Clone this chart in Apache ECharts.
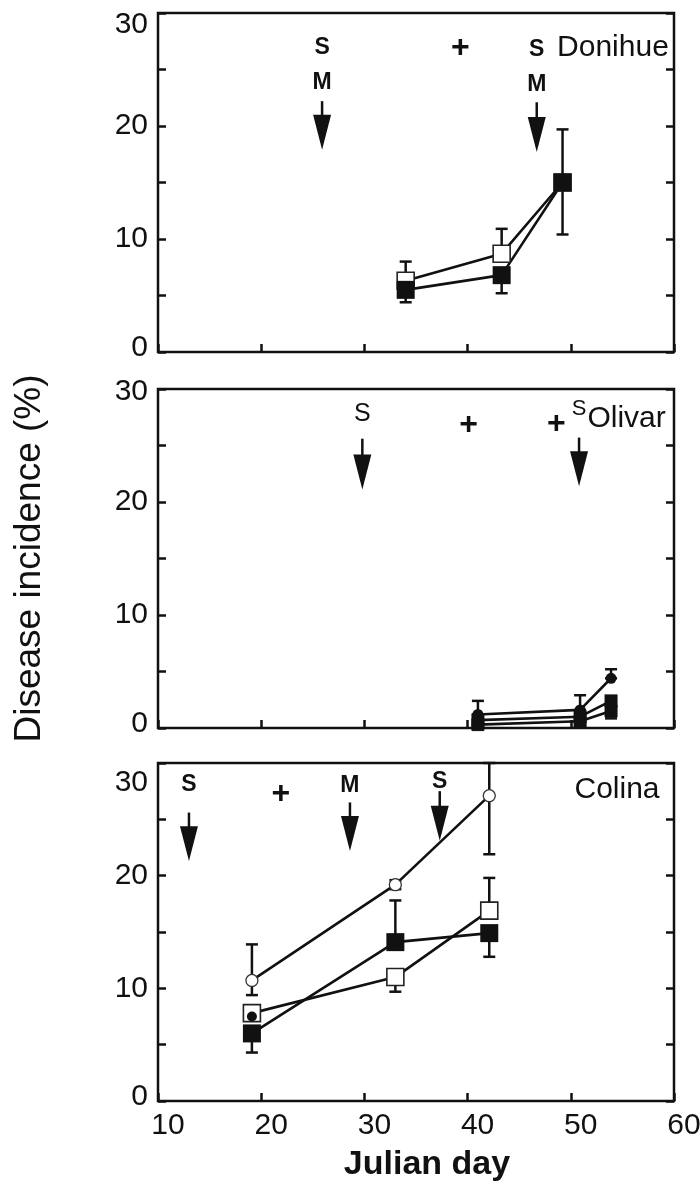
<!DOCTYPE html>
<html><head><meta charset="utf-8">
<script src="https://cdn.jsdelivr.net/npm/echarts@6/dist/echarts.min.js"></script>
<style>html,body{margin:0;padding:0;background:#fff}#c{width:700px;height:1195px}</style>
</head><body><div id="c"></div>
<script>
// ---------- data ----------
// Donihue
const donihueDays = [34.0, 43.3, 49.2];
const donihueOpenSq = [6.3, 8.7, 15.0];
const donihueOpenSqLow = [6.3, 8.7, 15.0];
const donihueOpenSqHigh = [8.0, 10.9, 19.7];
const donihueFilledSq = [5.5, 6.8, 15.0];
const donihueFilledSqLow = [4.4, 5.2, 10.4];
const donihueFilledSqHigh = [5.5, 6.8, 15.0];
// Olivar
const olivarDays = [41.0, 50.9, 53.9];
const olivarFilledCirc = [1.2, 1.6, 4.4];
const olivarFilledCircLow = [1.2, 1.6, 4.4];
const olivarFilledCircHigh = [2.4, 2.9, 5.2];
const olivarFilledSq = [0.7, 1.0, 2.4];
const olivarOpenSq = [0.3, 0.6, 1.5];
const olivarOpenSqLow = [0.0, 0.3, 0.85];
const olivarOpenSqHigh = [0.3, 0.6, 1.5];
// Colina
const colinaDays = [19.1, 33.0, 42.1];
const colinaOpenCirc = [10.7, 19.2, 27.1];
const colinaOpenCircLow = [9.4, 18.8, 21.9];
const colinaOpenCircHigh = [13.9, 19.6, 30.0];
const colinaOpenSq = [7.8, 11.0, 16.9];
const colinaOpenSqLow = [7.8, 9.7, 16.9];
const colinaOpenSqHigh = [7.8, 11.0, 19.8];
const colinaFilledSq = [6.0, 14.1, 14.9];
const colinaFilledSqLow = [4.3, 14.1, 12.8];
const colinaFilledSqHigh = [6.0, 17.8, 14.9];
const colinaFilledCircDays = [19.1];
const colinaFilledCirc = [7.5];

// application arrows: [day, shaft top, tip]
const donihueArrows = [[25.9, 22.2, 17.9], [46.7, 22.1, 17.7]];
const olivarArrows = [[29.8, 25.6, 21.1], [50.8, 25.7, 21.4]];
const colinaArrows = [[13.0, 25.6, 21.3], [28.6, 26.5, 22.2], [37.3, 27.5, 23.1]];
// annotation texts: [day, value, text]
const donihueNotes = [[25.9, 26.9, 'S'], [25.9, 23.8, 'M'], [39.3, 26.9, '+'], [46.7, 26.8, 'S'], [46.7, 23.7, 'M']];
const olivarNotes = [[29.8, 27.8, 'S'], [40.1, 26.8, '+'], [48.6, 26.9, '+'], [50.8, 28.2, 's']];
const colinaNotes = [[13.0, 28.1, 'S'], [21.9, 27.2, '+'], [28.6, 28.0, 'M'], [37.3, 28.3, 'S']];
// site names: [day, value, text]
const siteNames = [[59.5, 26.9, 'Donihue'], [59.2, 27.4, 'Olivar'], [58.6, 27.6, 'Colina']];

const xMin = 10, xMax = 60, xStep = 10;
const yMin = 0, yMax = 30, yStep = 5;
const xTitle = 'Julian day';
const yTitle = 'Disease incidence (%)';

// ---------- chart ----------
const FONT = '"Liberation Sans", Arial, sans-serif';
const INK = '#111111';
const chart = echarts.init(document.getElementById('c'));

const gridBoxes = [
  {left: 158, top: 13, width: 516, height: 339},
  {left: 158, top: 389, width: 516, height: 339},
  {left: 158, top: 763, width: 516, height: 338}
];
const topLabelPad = [24, 6, 40];

const grid = gridBoxes.map(g => Object.assign({show: true, borderColor: INK, borderWidth: 2.5,
  containLabel: false, outerBoundsMode: 'none'}, g));

const xAxis = gridBoxes.map((g, i) => ({
  type: 'value', gridIndex: i, min: xMin, max: xMax, interval: xStep,
  axisLine: {show: false},
  axisTick: {show: true, inside: true, length: 8, lineStyle: {color: INK, width: 2.5}},
  splitLine: {show: false},
  axisLabel: {show: i === 2, fontFamily: FONT, fontSize: 30, color: INK, margin: 10, padding: [0, 0, 0, 20],
    hideOverlap: false, showMinLabel: true, showMaxLabel: true},
  name: i === 2 ? xTitle : '', nameLocation: 'middle', nameGap: 47,
  nameTextStyle: {fontFamily: FONT, fontSize: 34, fontWeight: 'bold', color: INK, padding: [0, 0, 0, 22]}
}));

const yAxis = [];
gridBoxes.forEach((g, i) => {
  yAxis.push({
    type: 'value', gridIndex: i, min: yMin, max: yMax, interval: yStep, position: 'left',
    axisLine: {show: false},
    axisTick: {show: true, inside: true, length: 8, lineStyle: {color: INK, width: 2.5}},
    splitLine: {show: false},
    axisLabel: {
      fontFamily: FONT, fontSize: 30, color: INK, margin: 10,
      formatter: v => v % 10 !== 0 ? '' : (v === yMax ? '{t|' + v + '}' : (v === yMin ? '{b|' + v + '}' : String(v))),
      rich: {
        t: {fontFamily: FONT, fontSize: 30, color: INK, padding: [topLabelPad[i], 0, 0, 0]},
        b: {fontFamily: FONT, fontSize: 30, color: INK, padding: [0, 0, 8, 0]}
      }
    },
    name: i === 1 ? yTitle : '', nameLocation: 'middle', nameGap: 110,
    nameTextStyle: {fontFamily: FONT, fontSize: 37, color: INK}
  });
  yAxis.push({
    type: 'value', gridIndex: i, min: yMin, max: yMax, interval: yStep, position: 'right',
    axisLine: {show: false},
    axisTick: {show: true, inside: true, length: 8, lineStyle: {color: INK, width: 2.5}},
    axisLabel: {show: false}, splitLine: {show: false}
  });
});

const MARKERS = {
  filledSq: {symbol: 'rect', size: 18, item: {color: INK, opacity: 1}},
  filledSqSmall: {symbol: 'rect', size: 13, item: {color: INK, opacity: 1}},
  openSq: {symbol: 'rect', size: 17, item: {color: '#fff', borderColor: '#222', borderWidth: 1.6, opacity: 1}},
  openSqSmall: {symbol: 'rect', size: 12, item: {color: INK, borderColor: INK, borderWidth: 1, opacity: 1}},
  openCirc: {symbol: 'circle', size: 12, item: {color: '#fff', borderColor: '#333', borderWidth: 1.3, opacity: 1}},
  filledCirc: {symbol: 'circle', size: 10, item: {color: INK, opacity: 1}},
  filledCircPanel2: {symbol: 'circle', size: 11, item: {color: INK, opacity: 1}}
};

function lineSeries(gi, days, vals, mk, noLine) {
  const m = MARKERS[mk];
  return {
    type: 'line', xAxisIndex: gi, yAxisIndex: gi * 2, z: 3,
    data: days.map((d, i) => [d, vals[i]]),
    symbol: m.symbol, symbolSize: m.size, showSymbol: true, itemStyle: m.item,
    lineStyle: {color: INK, width: noLine ? 0 : 2.6, opacity: noLine ? 0 : 1},
    animation: false, silent: true
  };
}

function errSeries(gi, days, low, high) {
  return {
    type: 'custom', xAxisIndex: gi, yAxisIndex: gi * 2, z: 2, silent: true, animation: false,
    encode: {x: 0, y: [1, 2]},
    data: days.map((d, i) => [d, low[i], high[i]]),
    renderItem(params, api) {
      const x = api.value(0);
      const a = api.coord([x, api.value(1)]);
      const b = api.coord([x, api.value(2)]);
      const w = 6;
      const st = {stroke: INK, lineWidth: 2.5};
      return {type: 'group', children: [
        {type: 'line', shape: {x1: a[0], y1: a[1], x2: b[0], y2: b[1]}, style: st},
        {type: 'line', shape: {x1: a[0] - w, y1: a[1], x2: a[0] + w, y2: a[1]}, style: st},
        {type: 'line', shape: {x1: b[0] - w, y1: b[1], x2: b[0] + w, y2: b[1]}, style: st}
      ]};
    }
  };
}

function arrowSeries(gi, arrows) {
  return {
    type: 'custom', xAxisIndex: gi, yAxisIndex: gi * 2, z: 4, silent: true, animation: false,
    encode: {x: 0, y: [1, 2]},
    data: arrows,
    renderItem(params, api) {
      const x = api.value(0);
      const top = api.coord([x, api.value(1)]);
      const tip = api.coord([x, api.value(2)]);
      const headLen = Math.min(35, (tip[1] - top[1]) * 0.72);
      const hw = 9;
      const hy = tip[1] - headLen;
      return {type: 'group', children: [
        {type: 'line', shape: {x1: top[0], y1: top[1], x2: top[0], y2: hy + 2}, style: {stroke: INK, lineWidth: 2.5}},
        {type: 'polygon', shape: {points: [[tip[0] - hw, hy], [tip[0] + hw, hy], [tip[0], tip[1]]]}, style: {fill: INK}}
      ]};
    }
  };
}

function noteStyle(gi, t) {
  if (t === '+') return {fontSize: 32, fontWeight: 'bold'};
  if (t === 's') return {fontSize: 22, fontWeight: 'normal'};
  if (gi === 1) return {fontSize: 25, fontWeight: 'normal'};
  return {fontSize: 23, fontWeight: 'bold'};
}

function noteSeries(gi, notes) {
  return {
    type: 'scatter', xAxisIndex: gi, yAxisIndex: gi * 2, z: 5, silent: true, animation: false,
    symbolSize: 0, itemStyle: {opacity: 1},
    data: notes.map(n => {
      const s = noteStyle(gi, n[2]);
      return {value: [n[0], n[1]], name: n[2] === 's' ? 'S' : n[2],
        label: {show: true, position: 'inside', formatter: '{b}', fontFamily: FONT, color: INK,
          fontSize: s.fontSize, fontWeight: s.fontWeight, opacity: 1}};
    })
  };
}

function siteSeries(gi, site) {
  return {
    type: 'scatter', xAxisIndex: gi, yAxisIndex: gi * 2, z: 5, silent: true, animation: false,
    symbolSize: 0, itemStyle: {opacity: 1},
    data: [{value: [site[0], site[1]], name: site[2]}],
    label: {show: true, position: 'left', distance: 0, formatter: '{b}', fontFamily: FONT,
      fontSize: 30, color: INK, opacity: 1}
  };
}

const series = [
  // Donihue
  errSeries(0, donihueDays, donihueOpenSqLow, donihueOpenSqHigh),
  errSeries(0, donihueDays, donihueFilledSqLow, donihueFilledSqHigh),
  lineSeries(0, donihueDays, donihueOpenSq, 'openSq'),
  lineSeries(0, donihueDays, donihueFilledSq, 'filledSq'),
  arrowSeries(0, donihueArrows),
  noteSeries(0, donihueNotes),
  siteSeries(0, siteNames[0]),
  // Olivar
  errSeries(1, olivarDays, olivarFilledCircLow, olivarFilledCircHigh),
  errSeries(1, olivarDays, olivarOpenSqLow, olivarOpenSqHigh),
  lineSeries(1, olivarDays, olivarOpenSq, 'openSqSmall'),
  lineSeries(1, olivarDays, olivarFilledSq, 'filledSqSmall'),
  lineSeries(1, olivarDays, olivarFilledCirc, 'filledCircPanel2'),
  arrowSeries(1, olivarArrows),
  noteSeries(1, olivarNotes),
  siteSeries(1, siteNames[1]),
  // Colina
  errSeries(2, colinaDays, colinaOpenCircLow, colinaOpenCircHigh),
  errSeries(2, colinaDays, colinaOpenSqLow, colinaOpenSqHigh),
  errSeries(2, colinaDays, colinaFilledSqLow, colinaFilledSqHigh),
  lineSeries(2, colinaDays, colinaOpenCirc, 'openCirc'),
  lineSeries(2, colinaDays, colinaFilledSq, 'filledSq'),
  lineSeries(2, colinaDays, colinaOpenSq, 'openSq'),
  lineSeries(2, colinaFilledCircDays, colinaFilledCirc, 'filledCirc', true),
  arrowSeries(2, colinaArrows),
  noteSeries(2, colinaNotes),
  siteSeries(2, siteNames[2])
];

chart.setOption({
  animation: false,
  backgroundColor: '#fff',
  textStyle: {fontFamily: FONT},
  grid, xAxis, yAxis, series
});
</script>
</body></html>
